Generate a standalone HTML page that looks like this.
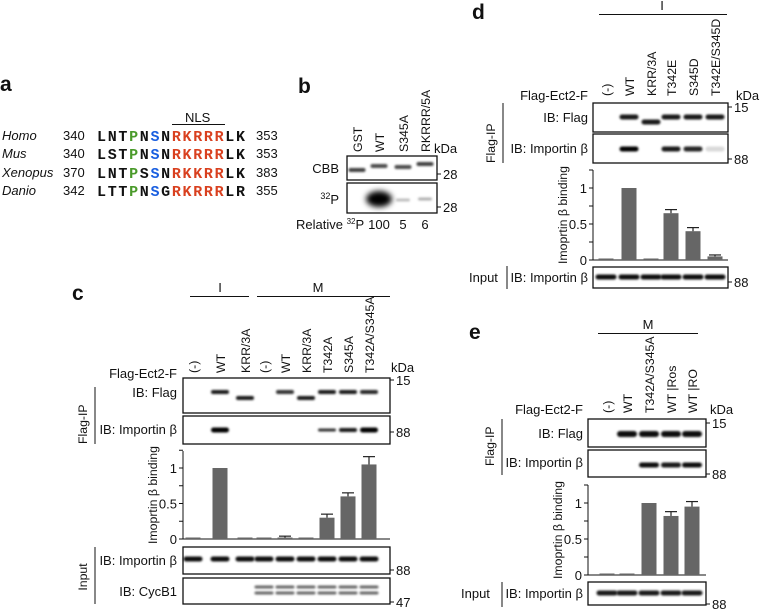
<!DOCTYPE html>
<html><head><meta charset="utf-8"><style>
body{margin:0;background:#fff}
svg{display:block;font-family:"Liberation Sans",sans-serif}
.t{font-size:13px;fill:#111}
.r{font-size:12.3px}
.seq{font-family:"Liberation Mono",monospace;font-weight:bold;font-size:15px;fill:#111}
.lbl{font-size:21px;font-weight:bold;fill:#111}
</style></head><body>
<svg id="fig" width="762" height="613" viewBox="0 0 762 613">
<defs>
<filter id="blur" x="-30%" y="-100%" width="160%" height="300%"><feGaussianBlur stdDeviation="1.1"/></filter>
<filter id="blur2" x="-50%" y="-100%" width="200%" height="300%"><feGaussianBlur stdDeviation="3"/></filter>
</defs>
<g>
<text class="lbl" x="0" y="91">a</text>
<text class="t" x="185" y="122">NLS</text>
<line x1="172" y1="124.5" x2="225" y2="124.5" stroke="#111" stroke-width="1"/>
<g>
<text class="t" x="2" y="140" font-style="italic">Homo</text>
<text class="t" x="2" y="158" font-style="italic">Mus</text>
<text class="t" x="2" y="177" font-style="italic">Xenopus</text>
<text class="t" x="2" y="195" font-style="italic">Danio</text>
</g>
<g>
<text class="t" x="63" y="140">340</text><text class="t" x="63" y="158">340</text>
<text class="t" x="63" y="177">370</text><text class="t" x="63" y="195">342</text>
</g>
<g>
<text class="seq" x="97" y="141" textLength="148" lengthAdjust="spacing">LNT<tspan fill="#4a9a2a">P</tspan>N<tspan fill="#1a5fe0">S</tspan>N<tspan fill="#d9401f">RKRRR</tspan>LK</text>
<text class="seq" x="97" y="159" textLength="148" lengthAdjust="spacing">LST<tspan fill="#4a9a2a">P</tspan>N<tspan fill="#1a5fe0">S</tspan>N<tspan fill="#d9401f">RKRRR</tspan>LK</text>
<text class="seq" x="97" y="178" textLength="148" lengthAdjust="spacing">LNT<tspan fill="#4a9a2a">P</tspan>S<tspan fill="#1a5fe0">S</tspan>N<tspan fill="#d9401f">RKKRR</tspan>LK</text>
<text class="seq" x="97" y="196" textLength="148" lengthAdjust="spacing">LTT<tspan fill="#4a9a2a">P</tspan>N<tspan fill="#1a5fe0">S</tspan>G<tspan fill="#d9401f">RKRRR</tspan>LR</text>
</g>
<g>
<text class="t" x="256" y="140">353</text><text class="t" x="256" y="158">353</text>
<text class="t" x="256" y="177">383</text><text class="t" x="256" y="195">355</text>
</g>
</g>
<g id="dyn"></g>
</svg>
<script>
const cLanes = ["(-)","WT","KRR/3A","(-)","WT","KRR/3A","T342A","S345A","T342A/S345A"];
const cValues = [0,1,0,0,0.02,0,0.3,0.6,1.05];
const cErrors = [0,0,0,0,0.02,0,0.05,0.05,0.11];
const dLanes = ["(-)","WT","KRR/3A","T342E","S345D","T342E/S345D"];
const dValues = [0,1,0,0.65,0.4,0.05];
const dErrors = [0,0,0,0.05,0.05,0.02];
const eLanes = ["(-)","WT","T342A/S345A","WT |Ros","WT |RO"];
const eValues = [0,0.02,1,0.82,0.95];
const eErrors = [0,0,0,0.06,0.07];
const yTicks = [0,0.5,1];
const yTickLabels = ["0","0.5","1"];
const bLanes = ["GST","WT","S345A","RKRRR/5A"];
const bRelative = ["100","5","6"];

const NS="http://www.w3.org/2000/svg";
const root=document.getElementById('dyn');
function mk(tag,attrs,parent,txt){const e=document.createElementNS(NS,tag);for(const k in attrs)e.setAttribute(k,attrs[k]);if(txt!==undefined)e.textContent=txt;(parent||root).appendChild(e);return e;}
function txt(x,y,s,parent,extra){const a=Object.assign({x:x,y:y,class:'t'},extra||{});return mk('text',a,parent,s);}
function rot(x,y,s,parent,anchor){return mk('text',{x:0,y:0,class:'t r',transform:`translate(${x},${y}) rotate(-90)`,'text-anchor':anchor||'start'},parent,s);}
function box(x1,y1,x2,y2,parent){return mk('rect',{x:x1,y:y1,width:x2-x1,height:y2-y1,fill:'none',stroke:'#111','stroke-width':1.3},parent);}
function band(cx,cy,w,h,op,parent){return mk('rect',{x:cx-w/2,y:cy-h/2,width:w,height:h,rx:h/2,fill:'#000','fill-opacity':op,filter:'url(#blur)'},parent);}
function tick(x,y,label,parent){mk('line',{x1:x,y1:y,x2:x+4,y2:y,stroke:'#111'},parent);txt(x+6,y+5,label,parent);}

function chart(parent,name,lanesX,vals,errs,ax,y0,y1,yTop,right){
  const g=mk('g',{},parent);
  
  
  const ys=v=>y0-(y0-y1)*v;
  mk('line',{x1:ax,y1:yTop,x2:ax,y2:y0,stroke:'#111'},g);
  mk('line',{x1:ax,y1:y0,x2:right,y2:y0,stroke:'#111'},g);
  for(let v=0;v<=1.25001;v+=0.25){mk('line',{x1:ax-4,y1:ys(v),x2:ax,y2:ys(v),stroke:'#111'},g);}
  yTicks.forEach((v,i)=>{const t=txt(ax-6,ys(v)+5,yTickLabels[i],g,{'text-anchor':'end'});});
  const yl=rot(ax-26,(yTop+y0)/2,'Imoprtin β binding',g,'middle');yl.setAttribute('font-size','12');
  
  vals.forEach((v,i)=>{
    const x=lanesX[i];
    const h=Math.max(1.5,y0-ys(v));
    const b=mk('rect',{x:x-7.5,y:y0-h,width:15,height:h,fill:'#666'},g);
    
    
    if(errs[i]>0){const ye=ys(v+errs[i]);
      mk('line',{x1:x,y1:ys(v),x2:x,y2:ye,stroke:'#222','stroke-width':1.2},g);
      mk('line',{x1:x-6,y1:ye,x2:x+6,y2:ye,stroke:'#222','stroke-width':1.2},g);}
  });
  return g;
}

(function(){
  const g=mk('g',{});
  
  
  txt(298,93,'b',g,{class:'lbl'});
  const lx=[357,379,403,425];
  bLanes.forEach((s,i)=>rot(lx[i]+5,152,s,g));
  txt(434,153,'kDa',g);
  box(347,156,437,180,g);box(347,183,437,213,g);
  txt(339,173,'CBB',g,{'text-anchor':'end'});
  const p=txt(339,204,'',g,{'text-anchor':'end'});mk('tspan',{'font-size':'9',dy:-5},p,'32');mk('tspan',{dy:5},p,'P');
  tick(437,174,'28',g);tick(437,207,'28',g);
  const cbb=[0.75,0.7,0.7,0.75],cy=[170,166,167,164];
  lx.forEach((x,i)=>band(x,cy[i],17,4,cbb[i],g));
  mk('ellipse',{cx:379,cy:199,rx:13,ry:8,fill:'#000',filter:'url(#blur2)'},g);
  band(403,200,14,3,0.25,g);band(425,199,14,3,0.3,g);
  const r=txt(296,229,'Relative ',g,{'font-size':'12'});mk('tspan',{'font-size':'8',dy:-5},r,'32');mk('tspan',{dy:5},r,'P');
  bRelative.forEach((s,i)=>txt(lx[i+1],229,s,g,{'text-anchor':'middle'}));
})();

(function(){
  const g=mk('g',{});
  
  
  txt(72,300,'c',g,{class:'lbl'});
  mk('line',{x1:190,y1:296.5,x2:249,y2:296.5,stroke:'#111'},g);txt(220,292,'I',g,{'text-anchor':'middle'});
  mk('line',{x1:257,y1:296.5,x2:390,y2:296.5,stroke:'#111'},g);txt(318,292,'M',g,{'text-anchor':'middle'});
  const lx=[193,220,245,264,285,306,327,348,369];
  cLanes.forEach((s,i)=>rot(lx[i]+5,373,s,g));
  txt(177,378,'Flag-Ect2-F',g,{'text-anchor':'end'});
  txt(391,372,'kDa',g);
  box(183,378,390,413,g);box(183,416,390,444,g);
  txt(177,397,'IB: Flag',g,{'text-anchor':'end'});
  txt(177,434,'IB: Importin β',g,{'text-anchor':'end'});
  mk('line',{x1:95,y1:387,x2:95,y2:444,stroke:'#111'},g);rot(87,444,'Flag-IP',g);
  const flag=[0,0.9,0.9,0,0.8,0.9,0.9,0.9,0.85],fy=[0,392,398,0,392,398,392,392,392];
  lx.forEach((x,i)=>{if(flag[i])band(x,fy[i],18,4,flag[i],g);});
  const imp=[0,1,0,0,0,0,0.8,0.9,1],ih=[0,5,0,0,0,0,3,4,5];
  lx.forEach((x,i)=>{if(imp[i])band(x,430,18,ih[i],imp[i],g);});
  tick(390,380,'15',g);tick(390,432,'88',g);
  chart(g,'chart-c',lx,cValues,cErrors,183,539,468,451,390);
  box(183,547,390,574,g);box(183,578,390,604,g);
  txt(177,565,'IB: Importin β',g,{'text-anchor':'end'});
  txt(177,596,'IB: CycB1',g,{'text-anchor':'end'});
  mk('line',{x1:95,y1:547,x2:95,y2:604,stroke:'#111'},g);rot(87,577,'Input',g,'middle');
  lx.forEach(x=>band(x,559,19,5,0.95,g));
  lx.forEach((x,i)=>{if(i>=3){band(x,587,19,3,0.6,g);band(x,593,19,3,0.6,g);}});
  tick(390,570,'88',g);tick(390,602,'47',g);
})();

(function(){
  const g=mk('g',{});
  
  
  txt(472,19,'d',g,{class:'lbl'});
  mk('line',{x1:599,y1:14.5,x2:727,y2:14.5,stroke:'#111'},g);txt(662,10,'I',g,{'text-anchor':'middle'});
  const lx=[606,629,651,671,693,715];
  dLanes.forEach((s,i)=>rot(lx[i]+5,96,s,g));
  txt(588,100,'Flag-Ect2-F',g,{'text-anchor':'end'});
  txt(736,100,'kDa',g);
  box(593,103,728,132,g);box(593,134,728,163,g);
  txt(588,122,'IB: Flag',g,{'text-anchor':'end'});
  txt(588,153,'IB: Importin β',g,{'text-anchor':'end'});
  mk('line',{x1:503,y1:103,x2:503,y2:163,stroke:'#111'},g);rot(495,163,'Flag-IP',g);
  const flag=[0,0.9,0.9,0.9,0.9,0.9],fy=[0,117,122,117,117,117];
  lx.forEach((x,i)=>{if(flag[i])band(x,fy[i],19,5,flag[i],g);});
  const imp=[0,1,0,0.9,0.85,0.15];
  lx.forEach((x,i)=>{if(imp[i])band(x,149,19,5,imp[i],g);});
  tick(728,107,'15',g);tick(728,159,'88',g);
  chart(g,'chart-d',lx,dValues,dErrors,593,260,188,170,728);
  box(593,267,728,288,g);
  txt(588,282,'IB: Importin β',g,{'text-anchor':'end'});
  txt(469,282,'Input',g);
  mk('line',{x1:507,y1:266,x2:507,y2:289,stroke:'#111'},g);
  lx.forEach(x=>band(x,277,21,5,0.95,g));
  tick(728,282,'88',g);
})();

(function(){
  const g=mk('g',{});
  
  
  txt(469,339,'e',g,{class:'lbl'});
  mk('line',{x1:598,y1:333.5,x2:698,y2:333.5,stroke:'#111'},g);txt(648,329,'M',g,{'text-anchor':'middle'});
  const lx=[607,627,649,671,692];
  eLanes.forEach((s,i)=>rot(lx[i]+5,413,s,g));
  txt(583,414,'Flag-Ect2-F',g,{'text-anchor':'end'});
  txt(710,414,'kDa',g);
  box(588,419,706,447,g);box(588,450,706,477,g);
  txt(583,438,'IB: Flag',g,{'text-anchor':'end'});
  txt(583,467,'IB: Importin β',g,{'text-anchor':'end'});
  mk('line',{x1:502,y1:419,x2:502,y2:475,stroke:'#111'},g);rot(494,466,'Flag-IP',g);
  const flag=[0,0.95,0.95,0.95,0.95];
  lx.forEach((x,i)=>{if(flag[i])band(x,434,20,6,flag[i],g);});
  const imp=[0,0,0.95,0.9,0.95];
  lx.forEach((x,i)=>{if(imp[i])band(x,465,20,5,imp[i],g);});
  tick(706,423,'15',g);tick(706,474,'88',g);
  chart(g,'chart-e',lx,eValues,eErrors,588,575,503,485,706);
  box(588,582,706,605,g);
  txt(583,598,'IB: Importin β',g,{'text-anchor':'end'});
  txt(461,598,'Input',g);
  mk('line',{x1:502,y1:582,x2:502,y2:607,stroke:'#111'},g);
  lx.forEach(x=>band(x,593,21,5,0.9,g));
  tick(706,604,'88',g);
})();
</script>
</body></html>
